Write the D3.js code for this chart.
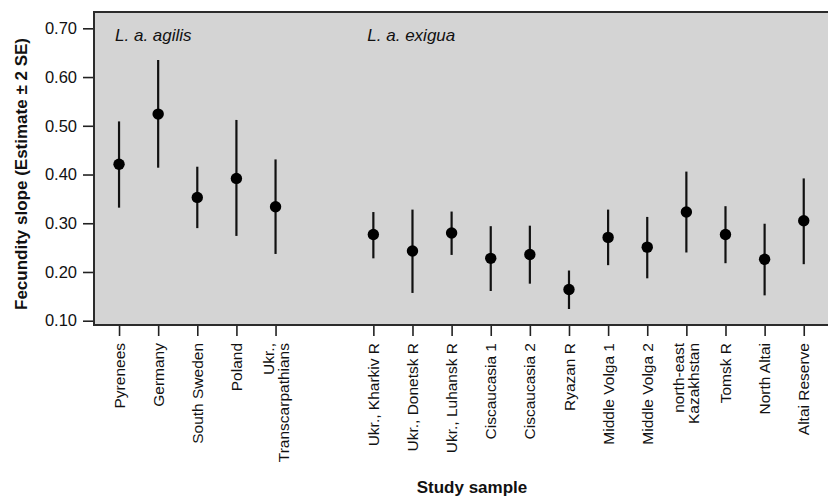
<!doctype html>
<html>
<head>
<meta charset="utf-8">
<title>Fecundity slope by study sample</title>
<script src="https://d3js.org/d3.v7.min.js"></script>
<style type="text/css">
	body { margin: 0; background: #fff; }
	text { font-family: "Liberation Sans", Arial, sans-serif; fill: #111; }
	.tick text { font-size: 16.5px; }
	.axisTitle { font-size: 17px; font-weight: bold; }
	.groupName { font-size: 17px; font-style: italic; }
	.sampleName { font-size: 15.5px; }
</style>
</head>
<body>
<script>
	var w = 828;
	var h = 499;

	// study samples, left to right on the chart
	var samples = ["Pyrenees", "Germany", "South Sweden", "Poland", "Ukr.,\nTranscarpathians",
		"Ukr., Kharkiv R", "Ukr., Donetsk R", "Ukr., Luhansk R", "Ciscaucasia 1", "Ciscaucasia 2",
		"Ryazan R", "Middle Volga 1", "Middle Volga 2", "north-east\nKazakhstan", "Tomsk R",
		"North Altai", "Altai Reserve"];
	var groups = ["agilis", "agilis", "agilis", "agilis", "agilis",
		"exigua", "exigua", "exigua", "exigua", "exigua", "exigua",
		"exigua", "exigua", "exigua", "exigua", "exigua", "exigua"];
	var groupLabels = ["L. a. agilis", "L. a. exigua"];

	var estimate = [0.421, 0.524, 0.353, 0.392, 0.334,
		0.277, 0.243, 0.280, 0.228, 0.236, 0.164, 0.271, 0.251, 0.323, 0.277, 0.226, 0.305];
	var lower = [0.332, 0.414, 0.290, 0.274, 0.237,
		0.228, 0.157, 0.235, 0.161, 0.176, 0.124, 0.214, 0.187, 0.240, 0.218, 0.152, 0.216];
	var upper = [0.509, 0.635, 0.416, 0.512, 0.431,
		0.323, 0.328, 0.324, 0.294, 0.295, 0.203, 0.328, 0.313, 0.406, 0.335, 0.299, 0.392];

	var yTicks = [0.10, 0.20, 0.30, 0.40, 0.50, 0.60, 0.70];

	var padLeft = 94, padTop = 12, padBottom = 325;

	var svg = d3.select("body")
				.append("svg")
				.attr("width", w)
				.attr("height", h);

	// slot on the x axis: the two subspecies are separated by a gap
	var gapAfter = 1.5;
	var data = samples.map(function(s, i) {
		return {
			name: s,
			group: groups[i],
			slot: groups[i] == "agilis" ? i : i + gapAfter,
			est: estimate[i],
			lo: lower[i],
			hi: upper[i]
		};
	});

	var xScale = d3.scaleLinear()
				   .domain([-0.64, 18.12])
				   .range([padLeft, w]);
	var yScale = d3.scaleLinear()
				   .domain([0.0912, 0.7335])
				   .range([padBottom, padTop]);

	// panel
	svg.append("rect")
		.attr("x", padLeft)
		.attr("y", padTop)
		.attr("width", w - padLeft + 20)
		.attr("height", padBottom - padTop)
		.attr("fill", "#d4d4d4")
		.attr("stroke", "#2b2b2b")
		.attr("stroke-width", 2);

	// y axis
	var yAxis = d3.axisLeft(yScale)
				  .tickValues(yTicks)
				  .tickFormat(d3.format(".2f"))
				  .tickSize(10)
				  .tickPadding(6);
	var gy = svg.append("g")
		.attr("transform", "translate(" + (padLeft - 1) + ",0)")
		.call(yAxis);
	gy.select(".domain").remove();
	gy.selectAll(".tick line").attr("stroke", "#222").attr("stroke-width", 1.6);

	// x axis ticks
	var xAxis = d3.axisBottom(xScale)
				  .tickValues(data.map(function(d) { return d.slot; }))
				  .tickFormat("")
				  .tickSize(10);
	var gx = svg.append("g")
		.attr("transform", "translate(0," + (padBottom + 1) + ")")
		.call(xAxis);
	gx.select(".domain").remove();
	gx.selectAll(".tick line").attr("stroke", "#222").attr("stroke-width", 1.6);
	gy.attr("font-family", null).attr("font-size", null);
	gx.attr("font-family", null).attr("font-size", null);

	// rotated sample names
	var lineH = 15;
	var labelTop = 343;
	svg.append("g")
		.selectAll("text")
		.data(data)
		.enter()
		.append("text")
		.attr("class", "sampleName")
		.attr("text-anchor", "end")
		.attr("transform", function(d) {
			return "translate(" + xScale(d.slot) + "," + labelTop + ") rotate(-90)";
		})
		.each(function(d) {
			var lines = d.name.split("\n");
			var t = d3.select(this);
			lines.forEach(function(l, k) {
				t.append("tspan")
					.attr("x", 0)
					.attr("y", (k - (lines.length - 1) / 2) * lineH)
					.attr("dy", "0.36em")
					.text(l);
			});
		});

	// error bars
	svg.append("g")
		.selectAll("line")
		.data(data)
		.enter()
		.append("line")
		.attr("x1", function(d) { return xScale(d.slot); })
		.attr("x2", function(d) { return xScale(d.slot); })
		.attr("y1", function(d) { return yScale(d.lo); })
		.attr("y2", function(d) { return yScale(d.hi); })
		.attr("stroke", "#111")
		.attr("stroke-width", 2.2);

	// estimates
	svg.append("g")
		.selectAll("circle")
		.data(data)
		.enter()
		.append("circle")
		.attr("cx", function(d) { return xScale(d.slot); })
		.attr("cy", function(d) { return yScale(d.est); })
		.attr("r", 5.7)
		.attr("fill", "#000");

	// subspecies labels
	var groupX = [xScale(0) - 4, xScale(5 + gapAfter) - 6];
	svg.append("g")
		.selectAll("text")
		.data(groupLabels)
		.enter()
		.append("text")
		.attr("class", "groupName")
		.attr("x", function(d, i) { return groupX[i]; })
		.attr("y", 41)
		.text(function(d) { return d; });

	// axis titles
	svg.append("text")
		.attr("class", "axisTitle")
		.attr("text-anchor", "middle")
		.attr("transform", "translate(27,174) rotate(-90)")
		.text("Fecundity slope (Estimate \u00b1 2 SE)");

	svg.append("text")
		.attr("class", "axisTitle")
		.attr("text-anchor", "middle")
		.attr("x", 472)
		.attr("y", 493)
		.text("Study sample");
</script>
</body>
</html>
